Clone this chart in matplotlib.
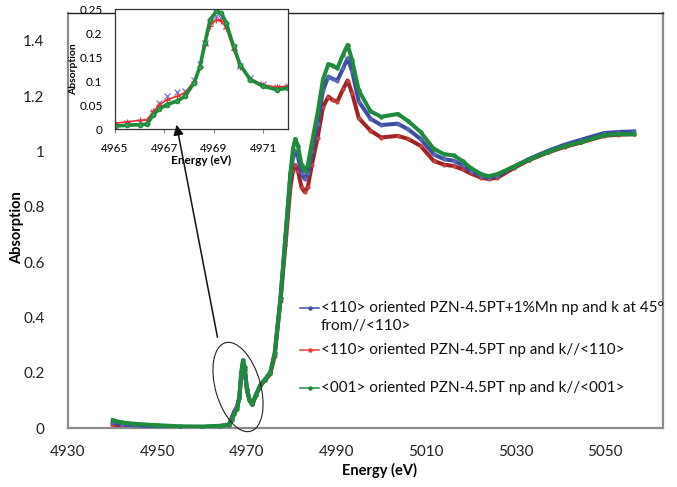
import matplotlib
matplotlib.use("Agg")
import matplotlib.pyplot as plt
from matplotlib.patches import Ellipse, FancyArrowPatch
from matplotlib.lines import Line2D

plt.rcParams['font.family'] = ['Lato', 'DejaVu Sans']

# main spectrum, energies (eV) and absorption
energy = [4940, 4942, 4945, 4950, 4955, 4960, 4964, 4966, 4966.6, 4967.2,
          4967.8, 4968.3, 4968.7, 4969.1, 4969.5, 4970, 4970.6, 4971.2, 4972,
          4973, 4974, 4975.2, 4976.2, 4977.5, 4978.6, 4979.7, 4980.3, 4980.8,
          4981.4, 4982.2, 4982.9, 4983.6, 4984.5, 4985.8, 4987, 4988.2, 4989.2,
          4990.2, 4991.5, 4992.5, 4993.5, 4995, 4997.6, 5000, 5003.7, 5006,
          5008.8, 5011.7, 5014, 5016.2, 5018.2, 5020, 5022.3, 5024, 5026,
          5029.7, 5033, 5037.3, 5041, 5044.7, 5049.8, 5053, 5056.5]

abs_mn45 = [0.020, 0.013, 0.010, 0.006, 0.004, 0.004, 0.007, 0.012, 0.035, 0.060,
            0.078, 0.11, 0.19, 0.235, 0.215, 0.14, 0.10, 0.085, 0.12,
            0.155, 0.175, 0.20, 0.27, 0.47, 0.69, 0.91, 0.98, 1.00,
            0.98, 0.92, 0.90, 0.92, 1.00, 1.10, 1.22, 1.27, 1.262,
            1.256, 1.30, 1.336, 1.29, 1.18, 1.118, 1.095, 1.10, 1.08,
            1.045, 0.99, 0.972, 0.966, 0.95, 0.93, 0.912, 0.905, 0.912,
            0.945, 0.972, 1.002, 1.024, 1.042, 1.066, 1.07, 1.072]

abs_110 = [0.012, 0.006, 0.003, 0.001, 0.001, 0.002, 0.006, 0.012, 0.037, 0.061,
           0.075, 0.11, 0.18, 0.228, 0.21, 0.135, 0.098, 0.085, 0.118,
           0.152, 0.172, 0.195, 0.26, 0.46, 0.66, 0.87, 0.93, 0.95,
           0.93, 0.87, 0.853, 0.87, 0.95, 1.05, 1.16, 1.198, 1.185,
           1.18, 1.225, 1.256, 1.21, 1.12, 1.075, 1.05, 1.056, 1.045,
           1.02, 0.966, 0.952, 0.947, 0.935, 0.92, 0.905, 0.90, 0.905,
           0.94, 0.968, 0.996, 1.016, 1.032, 1.056, 1.06, 1.062]

abs_001 = [0.028, 0.020, 0.015, 0.010, 0.006, 0.005, 0.008, 0.012, 0.030, 0.052,
           0.068, 0.11, 0.20, 0.245, 0.22, 0.14, 0.10, 0.085, 0.12,
           0.155, 0.175, 0.20, 0.27, 0.47, 0.69, 0.92, 1.01, 1.045,
           1.02, 0.95, 0.93, 0.95, 1.03, 1.14, 1.26, 1.315, 1.31,
           1.30, 1.35, 1.385, 1.33, 1.22, 1.145, 1.125, 1.135, 1.11,
           1.07, 1.01, 0.99, 0.985, 0.965, 0.94, 0.918, 0.91, 0.918,
           0.945, 0.97, 0.998, 1.018, 1.034, 1.058, 1.062, 1.062]

# pre-edge zoom (inset)
energy_pre = [4965, 4965.5, 4966, 4966.3, 4966.55, 4966.8, 4967.1, 4967.5, 4967.83,
              4968.2, 4968.44, 4968.64, 4968.85, 4969.1, 4969.3, 4969.5, 4969.8,
              4970.06, 4970.47, 4971.0, 4971.55, 4972.0]
pre_mn45 = [0.008, 0.012, 0.015, 0.016, 0.035, 0.055, 0.068, 0.078, 0.080,
            0.102, 0.135, 0.180, 0.222, 0.235, 0.232, 0.215, 0.170,
            0.132, 0.106, 0.093, 0.088, 0.090]
pre_110 = [0.012, 0.015, 0.018, 0.019, 0.037, 0.050, 0.061, 0.068, 0.075,
           0.100, 0.130, 0.175, 0.215, 0.228, 0.226, 0.210, 0.165,
           0.130, 0.105, 0.092, 0.087, 0.090]
pre_001 = [0.006, 0.008, 0.009, 0.010, 0.030, 0.042, 0.051, 0.058, 0.068,
           0.096, 0.130, 0.180, 0.228, 0.245, 0.242, 0.221, 0.172,
           0.134, 0.103, 0.089, 0.082, 0.085]

labels = ["<110> oriented PZN-4.5PT+1%Mn np and k at 45°\nfrom//<110>",
          "<110> oriented PZN-4.5PT np and k//<110>",
          "<001> oriented PZN-4.5PT np and k//<001>"]

BLUE = '#3d4ea3'
RED_DARK = '#a02222'
RED = '#f03c3c'
GREEN = '#1f8a3c'

fig = plt.figure(figsize=(6.77, 4.87), dpi=100)
ax = fig.add_axes([68 / 677, 59 / 487, 595 / 677, 415 / 487])

ax.plot(energy, abs_110, color=RED_DARK, lw=2.9, marker='o', ms=2.0,
        mfc='#c84040', mec='#c84040', zorder=2)
ax.plot(energy, abs_mn45, color=BLUE, lw=2.9, marker='o', ms=2.0,
        mfc='#5a68b8', mec='#5a68b8', zorder=3)
ax.plot(energy, abs_001, color=GREEN, lw=2.9, marker='o', ms=2.2,
        mfc='#2a9446', mec=GREEN, zorder=4)

ax.set_xlim(4930, 5063)
ax.set_ylim(0, 1.5)
ax.set_xticks([4930, 4950, 4970, 4990, 5010, 5030, 5050])
ax.set_yticks([0, 0.2, 0.4, 0.6, 0.8, 1, 1.2, 1.4])
ax.set_yticklabels(['0', '0.2', '0.4', '0.6', '0.8', '1', '1.2', '1.4'])
ax.tick_params(length=0, labelsize=11, colors='#222222')
ax.tick_params(axis='y', pad=17)
ax.tick_params(axis='x', pad=12)
for side in ['left', 'bottom', 'right']:
    ax.spines[side].set_color('#8c8c8c')
    ax.spines[side].set_linewidth(1.6)
ax.spines['top'].set_color('#222222')
ax.spines['top'].set_linewidth(1.0)

fig.text(17 / 677, 1 - 228 / 487, 'Absorption', rotation=90, fontsize=10.5,
         fontweight='bold', ha='center', va='center')
fig.text(380 / 677, 1 - 470 / 487, 'Energy (eV)', fontsize=10.5,
         fontweight='bold', ha='center', va='center')

# legend drawn by hand, Excel-like spacing
tr = fig.dpi_scale_trans
rows = [(4.87 - 3.08, BLUE), (4.87 - 3.50, RED), (4.87 - 3.88, GREEN)]
for (yy, col), lab in zip(rows, labels):
    fig.add_artist(Line2D([3.00, 3.19], [yy, yy], color=col, lw=1.1,
                          transform=tr))
    fig.add_artist(Line2D([3.095], [yy], color=col, marker='o', ms=2.2,
                          transform=tr))
    fig.text(3.21, yy + 0.07, lab, transform=tr, fontsize=11, va='top',
             ha='left', color='#111111', linespacing=1.35)

# inset: pre-edge region
axin = fig.add_axes([115 / 677, 1 - 129 / 487, 173 / 677, 120 / 487])
axin.set_facecolor('white')
axin.plot(energy_pre, pre_mn45, ls='none', marker='x', ms=4, mew=0.9,
          color='#7b73d6')
axin.plot(energy_pre, pre_110, color='#e83030', lw=1.2, marker='+', ms=5, mew=0.9)
axin.plot(energy_pre, pre_001, color=GREEN, lw=2.6, marker='o', ms=3,
          mfc='#3aa357', mec=GREEN)
axin.set_xlim(4965, 4972)
axin.set_ylim(0, 0.25)
axin.set_xticks([4965, 4967, 4969, 4971])
axin.set_yticks([0, 0.05, 0.1, 0.15, 0.2, 0.25])
axin.set_yticklabels(['0', '0.05', '0.1', '0.15', '0.2', '0.25'])
axin.tick_params(axis='x', length=3, width=0.8, direction='out', labelsize=8.5,
                 pad=7, color='#888888')
axin.tick_params(axis='y', length=0, labelsize=8.5, pad=9)
for s in axin.spines.values():
    s.set_color('#333333')
    s.set_linewidth(0.9)
axin.set_ylabel('Absorption', fontsize=7.5, fontweight='bold', labelpad=1)
axin.set_xlabel('Energy (eV)', fontsize=8.5, fontweight='bold', labelpad=1)

# hand-drawn loop around the pre-edge peak and the arrow to the inset
fig.add_artist(Ellipse((2.38, 1.00), 0.45, 0.92, angle=16, fill=False,
                       ec='#222222', lw=0.8, transform=tr, zorder=6))
fig.add_artist(FancyArrowPatch((2.18, 1.47), (1.76, 3.65), transform=tr,
                               arrowstyle='-|>,head_length=6,head_width=3',
                               color='#111111', lw=1.1, zorder=6))

fig.savefig('out.png', dpi=100)
